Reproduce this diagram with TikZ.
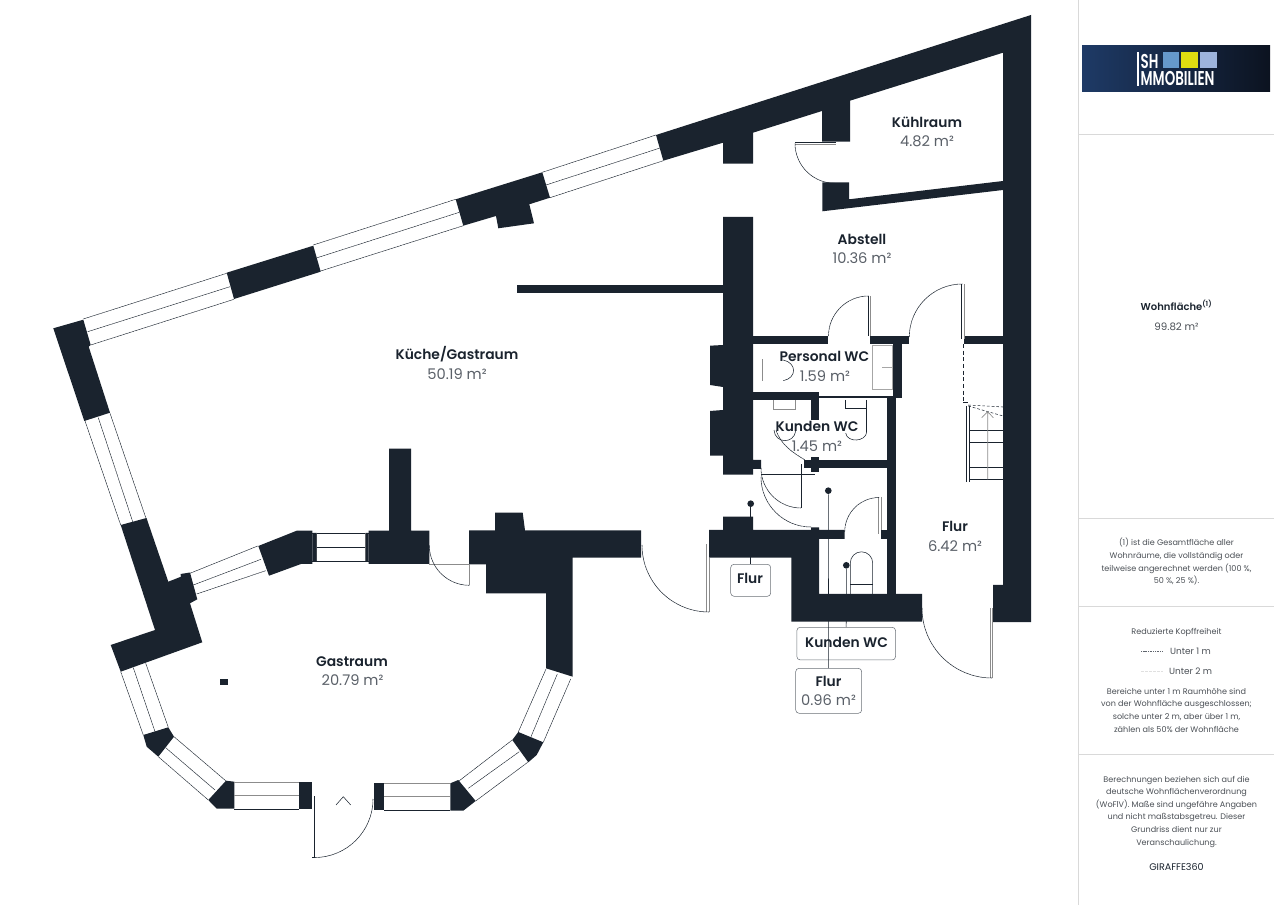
\documentclass[tikz,border=0pt]{standalone}
\usepackage{fontspec}
\setmainfont[BoldFont={Poppins SemiBold}]{Poppins}
\definecolor{wallcol}{HTML}{1A232E}
\definecolor{areacol}{HTML}{5A6068}
\definecolor{sidecol}{HTML}{D9D9D9}
\definecolor{sidetext}{HTML}{4A4F55}
\definecolor{logoleft}{HTML}{1E3A66}
\definecolor{logoright}{HTML}{0C1320}
\definecolor{logoblue}{HTML}{6699CC}
\definecolor{logoyellow}{HTML}{E0DC10}
\definecolor{logolight}{HTML}{9DB4DC}
\tikzset{
    wall/.style={fill=wallcol,draw=none},
    pane/.style={draw=wallcol,line width=.35pt,dash pattern=on 2pt off .3pt},
    leaf/.style={draw=wallcol,line width=.4pt},
    greyleaf/.style={draw=black!45,line width=.5pt},
    swing/.style={draw=wallcol,line width=.4pt,dash pattern=on 2pt off .3pt},
    roomname/.style={anchor=base,inner sep=0pt,text=wallcol,font=\fontsize{10.4}{12}\selectfont\bfseries},
    roomarea/.style={anchor=base,inner sep=0pt,text=areacol,font=\fontsize{11}{12}\selectfont},
    tagbox/.style={draw=wallcol!65,line width=.4pt,rounded corners=2.5pt,inner sep=0pt},
    tagdot/.style={circle,fill=wallcol,inner sep=0pt,minimum size=5pt},
    sideline/.style={draw=sidecol,line width=.5pt},
    sidenote/.style={anchor=base,inner sep=0pt,text=sidetext,font=\fontsize{6.05}{7}\selectfont},
    logotext/.style={anchor=south west,align=left,inner sep=0pt,text depth=0pt,text=white,font=\fontsize{15}{13}\selectfont\bfseries,xscale=.67}
}
\begin{document}
\begin{tikzpicture}[x=0.75pt,y=-0.75pt]
    \useasboundingbox (0,0) rectangle (1279,905);

    % outer wall top right, stubs
    \fill[wall] (656,135) -- (1031,15) -- (1031,622) -- (993,622) -- (993,585) -- (1003,585) -- (1003,52.7)
        -- (850,100.7) -- (850,141.7) -- (822,141.7) -- (822,111) -- (753,132.7) -- (753,163.7)
        -- (723,163.7) -- (723,142.7) -- (663.3,160.7) -- cycle;
    \fill[wall] (822.3,182.3) -- (849,182.3) -- (849,199.3) -- (1003,181) -- (1003,190) -- (822.3,211.3) -- cycle;
    % middle wall with chimneys
    \fill[wall] (723,217) -- (753,217) -- (753,460) -- (761,460) -- (761,469) -- (753,469) -- (753,474.7) -- (723,474.7)
        -- (723,455.7) -- (710,455.7) -- (710,411) -- (723,410) -- (723,387) -- (710,385) -- (710,345.7) -- (723,345) -- cycle;
    \fill[wall] (517,285) rectangle (723,293);
    % wc walls
    \fill[wall] (753,335.7) rectangle (828,344);
    \fill[wall] (870.3,335.7) rectangle (909,344);
    \fill[wall] (964.3,335.7) rectangle (1003,344);
    \fill[wall] (892.7,344) rectangle (901.7,398.3);
    \fill[wall] (753,391.7) rectangle (819,400);
    \fill[wall] (819,396) rectangle (901.7,398.5);
    \fill[wall] (811,400) rectangle (819,420);
    \fill[wall] (887.3,398) rectangle (896,594);
    \fill[wall] (804,460) rectangle (887.3,468.3);
    \fill[wall] (811,456.7) rectangle (819,471.7);
    \fill[wall] (881.3,530) rectangle (887.3,539);
    % lower wall at flur
    \fill[wall] (709,530) -- (723,530) -- (723,516.7) -- (753,516.7) -- (753,530) -- (811,530) -- (811,527.3)
        -- (819,527.3) -- (819,530) -- (844.7,530) -- (844.7,539) -- (819,539) -- (819,594) -- (922,594)
        -- (922,621.7) -- (791.3,621.7) -- (791.3,557.7) -- (709,557.7) -- cycle;
    % wall between kueche and gastraum
    \fill[wall] (469,530.3) -- (495,530.3) -- (495,512.7) -- (522.7,512.7) -- (525,530.3) -- (641,530.3) -- (641,557.7)
        -- (572.7,557.7) -- (572.7,676.7) -- (546,668.3) -- (546,593.3) -- (486,593.3) -- (486,564.3) -- (469,564.3) -- cycle;
    \fill[wall] (368.7,530.7) -- (389,530.7) -- (389,448.7) -- (411,448.7) -- (411,530.7) -- (429.3,530.7) -- (429.3,564) -- (368.7,564) -- cycle;
    \fill[wall] (258.3,546) -- (296.7,530.7) -- (312.3,530.7) -- (312.3,564) -- (301,564) -- (269,575.7) -- cycle;
    % piers along the outer wall
    \fill[wall] (53.3,328.3) -- (83.3,319.7) -- (90.7,345) -- (88.7,346.7) -- (110,412.7) -- (84.3,421) -- cycle;
    \fill[wall] (120.7,525) -- (146.5,518) -- (168.3,581.7) -- (181,576.7) -- (180.5,574) -- (190,572.5) -- (197.3,599.3)
        -- (190,603.3) -- (202.3,642.3) -- (120.7,671.7) -- (110.7,645) -- (155,630) -- cycle;
    \fill[wall] (226.7,272.7) -- (313.3,245.7) -- (320.7,271.7) -- (234,299) -- cycle;
    \fill[wall] (455.7,199.3) -- (542.3,172.3) -- (550,197.7) -- (529.3,204.3) -- (534,223.3) -- (498.3,228.3)
        -- (496,216) -- (463.3,225.7) -- cycle;
    \fill[wall] (143.3,735) -- (168.3,727.3) -- (174,736.7) -- (158.3,756.7) -- (146.7,746.7) -- cycle;
    \fill[wall] (208.3,800) -- (226,780.7) -- (234.3,781.7) -- (234.3,808.7) -- (216.7,808.7) -- cycle;
    \fill[wall] (299,782) rectangle (312,809.3);
    \fill[wall] (373.7,782.7) rectangle (384.3,810.3);
    \fill[wall] (450.3,783.3) -- (458.3,780) -- (475.7,801) -- (463.3,810.7) -- (450.3,810.7) -- cycle;
    \fill[wall] (512.3,740) -- (518.3,732) -- (543.3,742.3) -- (536.7,755) -- (528.3,762.3) -- cycle;
    \fill[wall] (220,679.3) rectangle (228,684.7);

    % windows
    \foreach \xa/\ya/\xb/\yb in {83.3/319/226.7/273.3, 87.7/331.7/230/286.7, 90.7/345/234/299.3,
        313.3/245/455.7/199.3, 317.3/257.7/459.3/212.3, 320.7/271/463.3/225.7,
        542.3/172.3/656/135, 546/185/660/148, 550/197.7/663.3/160.7,
        85/421/120.7/525, 98.3/417.7/132.7/521.7, 110/413.3/146/518.3,
        190/573.3/257.7/546, 193.3/585/261/559.3, 196.7/594/265.7/570.7,
        120.7/671.7/143.3/735, 133.3/667.7/155/731.7, 145.7/663.3/168.3/727.3,
        158.3/756.7/208.3/800, 165.7/747.7/215/790, 174/736.7/226/781}
        \draw[pane] (\xa,\ya) -- (\xb,\yb);
    \foreach \xa/\ya/\xb/\yb in {475.7/801/527.7/762.3, 468.3/788.3/519.3/751.7, 459.3/780.7/512.3/740,
        518.3/732/546/669, 531/736.7/557.3/674, 543.3/742.3/570.7/679}
        \draw[pane] (\xa,\ya) -- (\xb,\yb);
    \draw[greyleaf] (234.3,782.3) -- (299,782.3) (234.3,795.7) -- (299,795.7);
    \draw[leaf] (234.3,809) -- (299,809);
    \draw[greyleaf] (384.3,783.3) -- (450.3,783.3) (384.3,796.7) -- (450.3,796.7);
    \draw[leaf] (384.3,810.3) -- (450.3,810.3);
    \draw[leaf] (312.3,533) -- (368.7,533) (316.7,547) -- (365.7,547) (312.3,561.5) -- (368.7,561.5);
    \draw[greyleaf] (316.7,533) -- (316.7,561) (365.7,533) -- (365.7,561);
    \fill[wallcol] (312.3,533) rectangle (316.7,561.5) (365.7,533) rectangle (368.7,561.5);

    % doors
    \draw[leaf] (314.3,796) -- (314.3,857.3) -- (312,857.3);
    \draw[swing] (373,799) arc[start angle=0,end angle=90,radius=58.5];
    \draw[leaf] (336,805) -- (343.3,796.7) -- (350.7,805);
    \draw[greyleaf] (429.3,564.3) -- (469.3,564.3) -- (469.3,585.3);
    \draw[swing] (429.3,545.3) arc[start angle=180,end angle=90,radius=40];
    \draw[greyleaf] (706.7,544.3) -- (706.7,612.3) (709,557.7) -- (709,612.3);
    \draw[swing] (642,545) arc[start angle=180,end angle=90,radius=67];
    \draw[greyleaf] (990,608.3) -- (990,678.3) (992.7,608.3) -- (992.7,678.3);
    \draw[swing] (922,608) arc[start angle=180,end angle=90,radius=70];
    \draw[leaf] (795,142.6) -- (835.7,142.6);
    \draw[greyleaf] (795,144.3) -- (835.7,144.3);
    \draw[swing] (795,143.3) arc[start angle=180,end angle=90,radius=40];
    \draw[leaf] (868.4,296) -- (868.4,335.7);
    \draw[greyleaf] (870,296) -- (870,335.7);
    \draw[swing] (828.5,336) arc[start angle=180,end angle=270,radius=40];
    \draw[leaf] (961.7,284.3) -- (961.7,339.3);
    \draw[greyleaf] (964,284.3) -- (964,339.3);
    \draw[swing] (909.3,337) arc[start angle=180,end angle=270,radius=53];
    \draw[leaf] (761,474) -- (815,474) (801.7,464.3) -- (801.7,507.7);
    \draw[swing] (761,468) arc[start angle=180,end angle=90,radius=40];
    \draw[swing] (761,477) arc[start angle=180,end angle=90,radius=50];
    \draw[swing] (776,430) .. controls (781,445) and (792,452) .. (805,460);
    \draw[greyleaf] (878.3,497) -- (878.3,534.3) (881.3,497) -- (881.3,530);
    \draw[swing] (844.7,532) arc[start angle=180,end angle=270,radius=34.5];

    % stairs
    \draw[wallcol,line width=.4pt,dash pattern=on 3pt off 2pt] (963.3,344) -- (963.3,402.3);
    \draw[wallcol,line width=.4pt] (963.3,402.3) -- (968,402.3);
    \draw[wallcol,line width=.4pt,dash pattern=on 2pt off 1.5pt] (968.3,406) -- (1003,416) (968.3,405) -- (1003,407);
    \draw[wallcol,line width=.5pt] (966.7,406) -- (966.7,481.7) (969.3,406) -- (969.3,481.7);
    \foreach \yy in {430.3,442.3,467.3,479.3}
        \draw[leaf] (969.3,\yy) -- (1003,\yy);
    \draw[greyleaf] (987.7,479.3) -- (987.7,411.7) (981.7,417.7) -- (987.7,411.7) -- (993.3,417.7);

    % sanitary
    \draw[draw=black!35,line width=.5pt] (872,345.7) rectangle (892.7,389);
    \draw[draw=black!35,line width=.5pt] (882.3,367.3) -- (892.7,367.3);
    \draw[greyleaf] (762.3,359.3) -- (762.3,380.7);
    \draw[leaf] (783.3,360) .. controls (797,363) and (797,378) .. (783.3,380.7);
    \draw[greyleaf] (773.3,400) -- (773.3,409.3) -- (795.7,409.3) -- (795.7,400);
    \draw[leaf] (774,430) .. controls (775,444) and (794,444) .. (795.7,431);
    \draw[leaf] (845,400) -- (845,408.3) -- (866.7,408.3) (866.7,400) -- (866.7,432);
    \draw[leaf] (866.7,432) .. controls (866,442) and (847,443) .. (845.7,433);
    \draw[leaf] (850.3,594) -- (850.3,563) arc[start angle=180,end angle=360,radius=11.2] -- (872.7,594);
    \draw[leaf] (850.3,584.5) -- (872.7,584.5);

    % rooms
    \node[roomname] (kueche) at (457,359.5) {Küche/Gastraum};
    \node[roomarea] (kuechearea) at (457,379.5) {50.19 m²};
    \node[roomname] (gastraum) at (352,666.5) {Gastraum};
    \node[roomarea] (gastraumarea) at (352.5,685.5) {20.79 m²};
    \node[roomname] (kuehlraum) at (927,127.5) {Kühlraum};
    \node[roomarea] (kuehlraumarea) at (927,146.5) {4.82 m²};
    \node[roomname] (abstell) at (862,245) {Abstell};
    \node[roomarea] (abstellarea) at (862,263.5) {10.36 m²};
    \node[roomname] (personal) at (824.5,361.5) {Personal WC};
    \node[roomarea] (personalarea) at (825,381.5) {1.59 m²};
    \node[roomname] (kunden) at (817,431.5) {Kunden WC};
    \node[roomarea] (kundenarea) at (817,451.5) {1.45 m²};
    \node[roomname] (flurbig) at (955,532) {Flur};
    \node[roomarea] (flurbigarea) at (955,551.5) {6.42 m²};

    % tags with pointers
    \node[tagdot] (dotflur) at (750.7,503.7) {};
    \node[tagdot] (dotkunden) at (846.3,565.3) {};
    \node[tagdot] (dotflursmall) at (828.3,490.7) {};
    \node[tagbox,minimum width=30pt,minimum height=24pt] (tagflur) at (750.7,580.3) {};
    \node[tagbox,minimum width=74pt,minimum height=24.5pt] (tagkunden) at (846.2,643.6) {};
    \node[tagbox,minimum width=49.5pt,minimum height=33.7pt] (tagflursmall) at (828.7,690.8) {};
    \draw[wallcol,line width=.4pt] (dotflur) -- (tagflur);
    \draw[wallcol,line width=.4pt] (dotkunden) -- (tagkunden);
    \draw[wallcol,line width=.4pt] (dotflursmall) -- (tagflursmall);
    \node[roomname] (flurname) at (750,583.5) {Flur};
    \node[roomname] (kundenname) at (846.5,647.5) {Kunden WC};
    \node[roomname] (flursmall) at (828.5,686) {Flur};
    \node[roomarea] (flursmallarea) at (828.5,705.5) {0.96 m²};

    % side panel
    \draw[sideline] (1078,0) -- (1078,905);
    \foreach \yy in {134,518,606,754}
        \draw[sideline] (1078,\yy) -- (1274,\yy);
    \shade[left color=logoleft,right color=logoright] (1082,46) rectangle (1270,92);
    \fill[white] (1137,52) rectangle (1139,86);
    \fill[logoblue] (1162.7,52.3) rectangle (1179,68.3);
    \fill[logoyellow] (1181.3,52.3) rectangle (1197.7,68.3);
    \fill[logolight] (1200.3,52.3) rectangle (1216.7,68.3);
    \node[logotext] (logotype) at (1140.5,85.7) {SH\\MMOBILIEN};

    \node[anchor=base,inner sep=0pt,text=wallcol,font=\fontsize{7.5}{9}\selectfont\bfseries] (wohnflaeche) at (1176.5,311) {Wohnfläche\textsuperscript{(1)}};
    \node[sidenote,font=\fontsize{7.7}{9}\selectfont] (wohnarea) at (1176.5,331) {99.82 m²};
    \foreach \nm/\yy/\tx in {a/546/{(1) ist die Gesamtfläche aller},
        b/559/{Wohnräume, die vollständig oder},
        c/571/{teilweise angerechnet werden (100 \%,},
        d/584/{50 \%, 25 \%).},
        e/634/{Reduzierte Kopffreiheit},
        f/694/{Bereiche unter 1 m Raumhöhe sind},
        g/706/{von der Wohnfläche ausgeschlossen;},
        h/719/{solche unter 2 m, aber über 1 m,},
        i/732/{zählen als 50\% der Wohnfläche},
        j/782/{Berechnungen beziehen sich auf die},
        k/794/{deutsche Wohnflächenverordnung},
        l/807/{(WoFlV). Maße sind ungefähre Angaben},
        m/819/{und nicht maßstabsgetreu. Dieser},
        n/832/{Grundriss dient nur zur},
        o/845/{Veranschaulichung.}}
        \node[sidenote] (note\nm) at (1176.5,\yy) {\tx};
    \node[sidenote,font=\fontsize{6.7}{8}\selectfont] (unterone) at (1190.5,654) {Unter 1 m};
    \node[sidenote,font=\fontsize{6.7}{8}\selectfont] (untertwo) at (1190.5,674) {Unter 2 m};
    \draw[wallcol!70,line width=.4pt,dash pattern=on .8pt off .5pt] (1141,651.5) -- (1163,651.5);
    \draw[black!12,line width=.4pt,dash pattern=on 2pt off 1pt] (1141,671.5) -- (1163,671.5);
    \node[sidenote,text=wallcol,font=\fontsize{7.2}{8}\selectfont] (giraffe) at (1176.5,870.5) {GIRAFFE360};
\end{tikzpicture}
\end{document}
